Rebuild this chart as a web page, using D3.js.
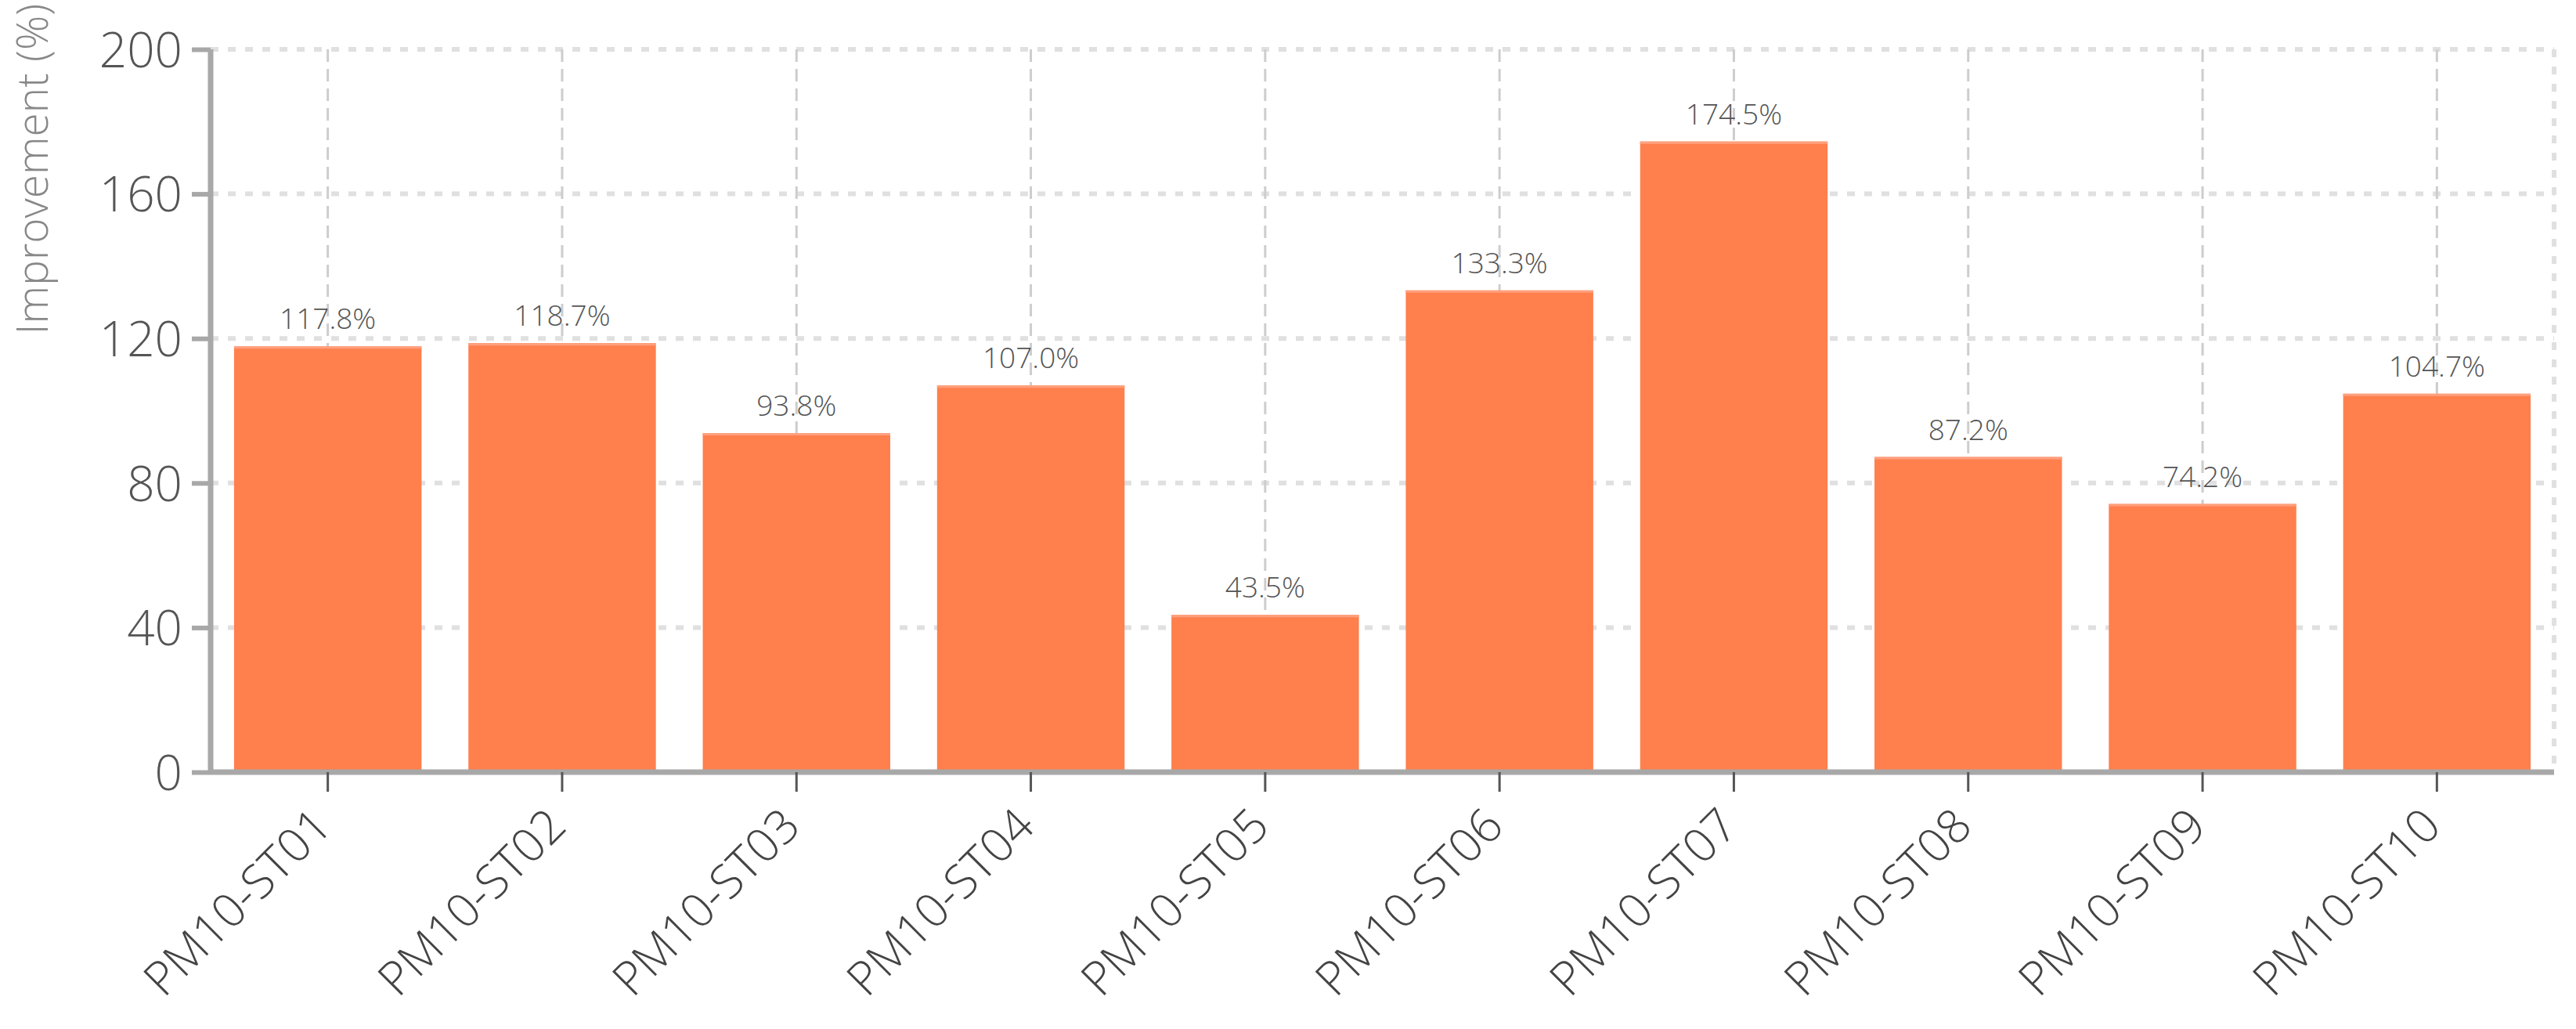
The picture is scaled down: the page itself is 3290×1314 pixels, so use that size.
<!DOCTYPE html>
<html><head><meta charset="utf-8">
<script src="https://cdn.jsdelivr.net/npm/d3@7"></script>
<style>html,body{margin:0;padding:0;background:#fff;}svg{display:block;font-family:"Open Sans",sans-serif;}</style>
</head><body><svg id="c" width="3290" height="1314"></svg>
<script>
const categories = ["PM10-ST01","PM10-ST02","PM10-ST03","PM10-ST04","PM10-ST05","PM10-ST06","PM10-ST07","PM10-ST08","PM10-ST09","PM10-ST10"];
const values = [117.8, 118.7, 93.8, 107.0, 43.5, 133.3, 174.5, 87.2, 74.2, 104.7];
const yTicks = [0, 40, 80, 120, 160, 200];
const yTitle = "Improvement (%)";

const svg = d3.select("#c");
const m = {left: 269, top: 63, right: 28, bottom: 328};
const W = 3290 - m.left - m.right, H = 1314 - m.top - m.bottom;
const g = svg.append("g").attr("transform", `translate(${m.left},${m.top})`);

const x = d3.scaleBand().domain(categories).range([0, W]).paddingInner(0.2).paddingOuter(0.1);
const y = d3.scaleLinear().domain([0, 200]).range([H, 0]);

// horizontal grid (dotted)
g.append("g").selectAll("line").data(yTicks.filter(d => d > 0)).join("line")
  .attr("x1", 0).attr("x2", W).attr("y1", d => y(d)).attr("y2", d => y(d))
  .attr("stroke", "#e0e0e0").attr("stroke-width", 6).attr("stroke-dasharray", "10,12");
// vertical grid (dashed) at category centers
g.append("g").selectAll("line").data(categories).join("line")
  .attr("x1", d => x(d) + x.bandwidth()/2).attr("x2", d => x(d) + x.bandwidth()/2)
  .attr("y1", 0).attr("y2", H)
  .attr("stroke", "#cdcdcd").attr("stroke-width", 3).attr("stroke-dasharray", "16,9");
// right border dotted
g.append("line").attr("x1", W).attr("x2", W).attr("y1", 0).attr("y2", H)
  .attr("stroke", "#e0e0e0").attr("stroke-width", 6).attr("stroke-dasharray", "10,12");

// bars
g.append("g").selectAll("rect").data(values).join("rect")
  .attr("x", (d, i) => x(categories[i])).attr("width", x.bandwidth())
  .attr("y", d => y(d)).attr("height", d => H - y(d))
  .attr("fill", "#FF7F4D");
g.append("g").selectAll("line").data(values).join("line")
  .attr("x1", (d, i) => x(categories[i])).attr("x2", (d, i) => x(categories[i]) + x.bandwidth())
  .attr("y1", d => y(d) + 1.5).attr("y2", d => y(d) + 1.5)
  .attr("stroke", "#FFA07E").attr("stroke-width", 3);

// value labels
g.append("g").selectAll("text").data(values).join("text")
  .attr("x", (d, i) => x(categories[i]) + x.bandwidth()/2)
  .attr("y", d => y(d) - 22)
  .attr("text-anchor", "middle").attr("font-size", 37).attr("font-weight", 300).attr("fill", "#555")
  .text(d => d.toFixed(1) + "%");

// y axis
const ya = g.append("g").call(d3.axisLeft(y).tickValues(yTicks).tickSize(24).tickPadding(12));
ya.select(".domain").attr("stroke", "#a8a8a8").attr("stroke-width", 7).attr("d", `M0,${H}V0`);
ya.selectAll(".tick line").attr("stroke", "#a8a8a8").attr("stroke-width", 6);
ya.selectAll(".tick text").attr("font-size", 62).attr("font-weight", 300).attr("fill", "#555").attr("font-family", "Open Sans").attr("dy", "0.36em");

// x axis
const xa = g.append("g").attr("transform", `translate(0,${H})`).call(d3.axisBottom(x).tickSize(25).tickPadding(10));
xa.select(".domain").attr("stroke", "#a8a8a8").attr("stroke-width", 7).attr("d", `M0,0H${W}`);
xa.selectAll(".tick line").attr("stroke", "#555").attr("stroke-width", 3);
xa.selectAll(".tick text").attr("font-size", 60).attr("font-weight", 300).attr("fill", "#444").attr("font-family", "Open Sans")
  .attr("text-anchor", "end").attr("y", 0).attr("dy", 0).attr("transform", "translate(8,72) rotate(-45)");

// y title
svg.append("text").attr("transform", "translate(61,216) rotate(-90)")
  .attr("text-anchor", "middle").attr("font-size", 55).attr("font-weight", 300).attr("fill", "#888").text(yTitle);
</script></body></html>
